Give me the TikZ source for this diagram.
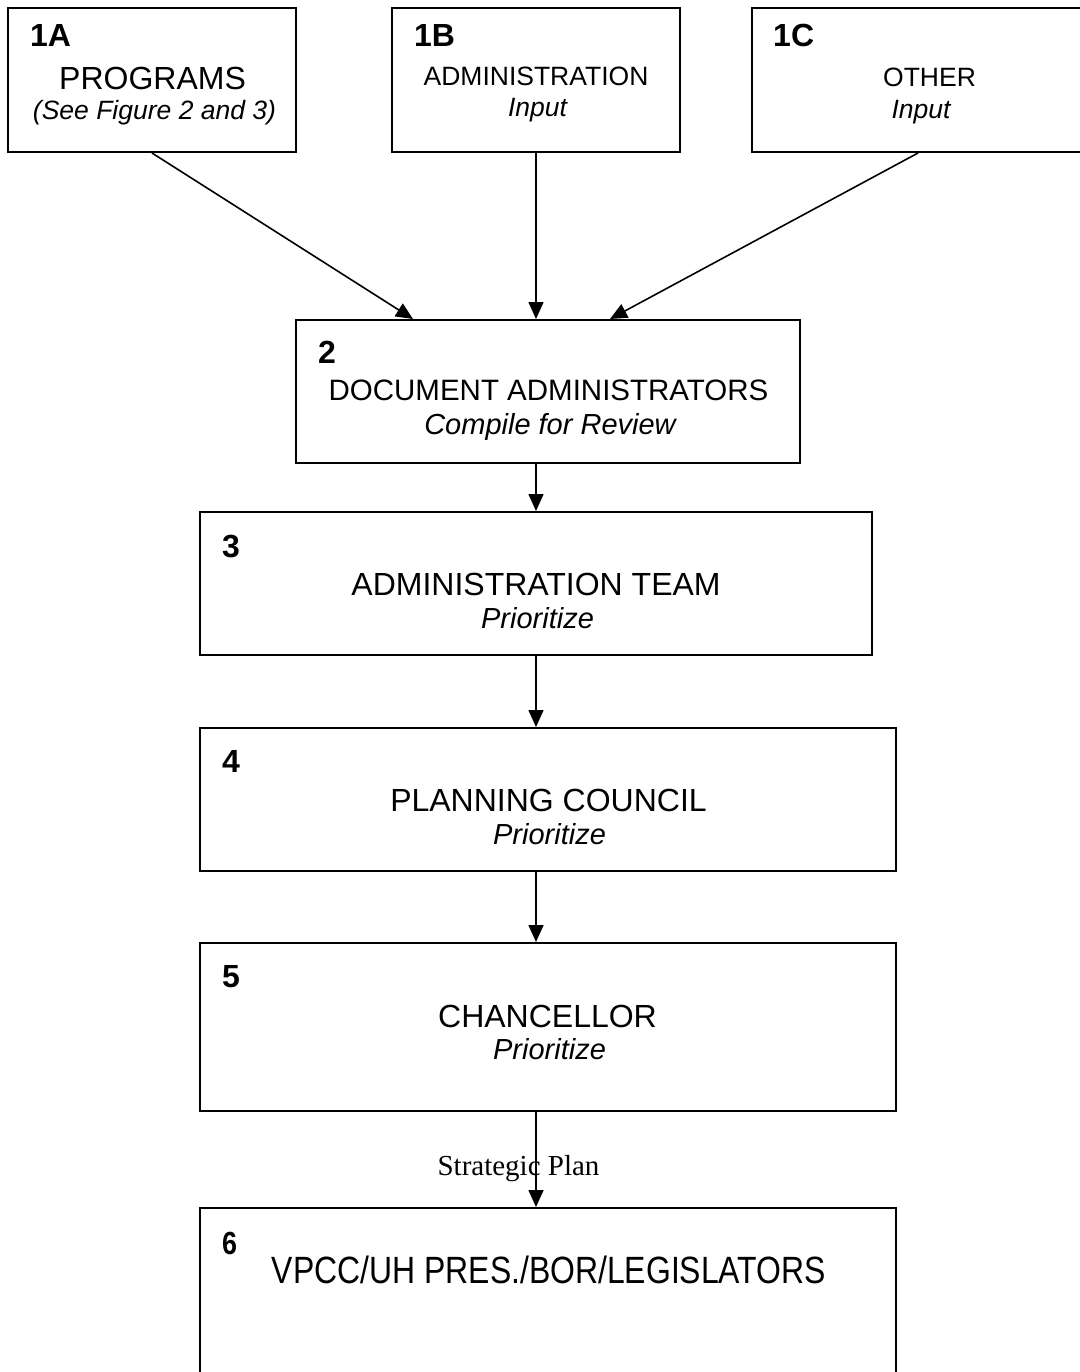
\documentclass[tikz,border=0pt]{standalone}
\usepackage{fontspec}
\setmainfont{Liberation Sans}
\newfontfamily\timesfont{Liberation Serif}
\newfontfamily\narrowfont{Liberation Sans}[FakeStretch=0.84]
\usetikzlibrary{arrows.meta}

\tikzset{
  stagebox/.style={draw, line width=2pt, rectangle, inner sep=0pt},
  num/.style={font=\fontsize{32}{36}\selectfont\bfseries, anchor=base west, inner sep=0pt},
  title/.style={font=\fontsize{32}{36}\selectfont, anchor=base, inner sep=0pt},
  smalltitle/.style={font=\fontsize{26.5}{30}\selectfont, anchor=base, inner sep=0pt},
  subtitle/.style={font=\fontsize{29}{33}\selectfont\itshape, anchor=base, inner sep=0pt},
  smallsub/.style={font=\fontsize{26.5}{30}\selectfont\itshape, anchor=base, inner sep=0pt},
  flow/.style={line width=1.6pt, -{Triangle[length=17pt,width=15pt]}},
}

\begin{document}
\begin{tikzpicture}[x=1pt, y=-1pt]
  \useasboundingbox (0,0) rectangle (1079,1372);

  % stage boxes
  \node[stagebox, minimum width=288pt, minimum height=144pt] (b1A) at (152,80) {};
  \node[stagebox, minimum width=288pt, minimum height=144pt] (b1B) at (536,80) {};
  \node[stagebox, minimum width=332pt, minimum height=144pt] (b1C) at (918,80) {};
  \node[stagebox, minimum width=504pt, minimum height=143pt] (b2) at (548,391.5) {};
  \node[stagebox, minimum width=672pt, minimum height=143pt] (b3) at (536,583.5) {};
  \node[stagebox, minimum width=696pt, minimum height=143pt] (b4) at (548,799.5) {};
  \node[stagebox, minimum width=696pt, minimum height=168pt] (b5) at (548,1027) {};
  \node[stagebox, minimum width=696pt, minimum height=200pt] (b6) at (548,1308) {};

  % box texts
  \node[num] (n1A) at (30,47) {1A};
  \node[title] (t1A) at (152.5,90) {PROGRAMS};
  \node[smallsub] (s1A) at (154.5,120) {(See Figure 2 and 3)};

  \node[num] (n1B) at (414,47) {1B};
  \node[smalltitle] (t1B) at (536,86) {ADMINISTRATION};
  \node[smallsub] (s1B) at (537.5,117) {Input};

  \node[num] (n1C) at (773,47) {1C};
  \node[smalltitle] (t1C) at (929.5,87) {OTHER};
  \node[smallsub] (s1C) at (921,119) {Input};

  \node[num] (n2) at (318,363) {2};
  \node[title, font=\fontsize{29.5}{33}\selectfont] (t2) at (548.5,400) {DOCUMENT ADMINISTRATORS};
  \node[subtitle] (s2) at (550,434) {Compile for Review};

  \node[num] (n3) at (222,557) {3};
  \node[title] (t3) at (536,595) {ADMINISTRATION TEAM};
  \node[subtitle] (s3) at (537.5,628) {Prioritize};

  \node[num] (n4) at (222,772) {4};
  \node[title] (t4) at (548.5,811) {PLANNING COUNCIL};
  \node[subtitle] (s4) at (549.5,844) {Prioritize};

  \node[num] (n5) at (222,987) {5};
  \node[title] (t5) at (547.5,1027) {CHANCELLOR};
  \node[subtitle] (s5) at (549.5,1059) {Prioritize};

  \node[num, font=\fontsize{32}{36}\selectfont\narrowfont\bfseries] (n6) at (222,1254) {6};
  \node[title, font=\fontsize{38}{42}\selectfont\narrowfont] (t6) at (549,1283) {VPCC/UH PRES./BOR/LEGISLATORS};

  % label on the last connector
  \node[anchor=base, inner sep=0pt, font=\fontsize{29}{33}\selectfont\timesfont] (plan) at (518.5,1175) {Strategic Plan};

  % connectors
  \draw[flow] (b1A.south) -- ([xshift=-135pt]b2.north);
  \draw[flow] (b1B.south) -- (b1B.south |- b2.north);
  \draw[flow] (b1C.south) -- ([xshift=62pt]b2.north);
  \draw[flow] (b3.north |- b2.south) -- (b3.north);
  \draw[flow] (b3.south) -- (b3.south |- b4.north);
  \draw[flow] (b3.south |- b4.south) -- (b3.south |- b5.north);
  \draw[flow] (b3.south |- b5.south) -- (b3.south |- b6.north);
\end{tikzpicture}
\end{document}
